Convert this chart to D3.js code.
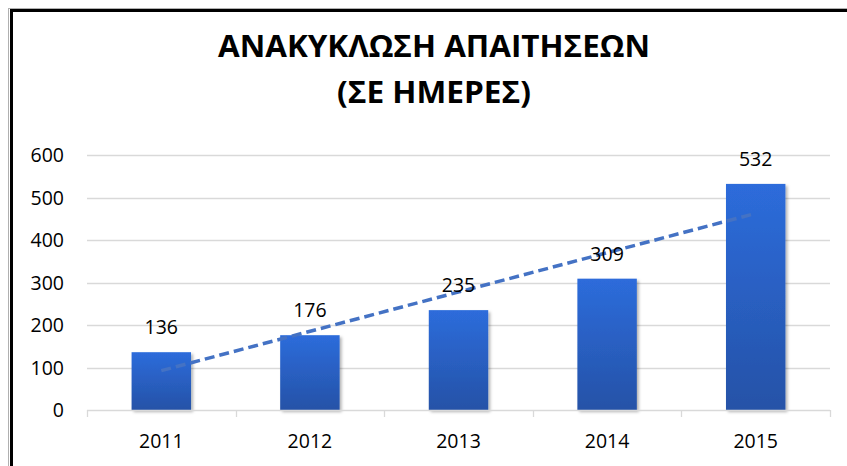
<!DOCTYPE html>
<html>
<head>
<meta charset="utf-8">
<script src="https://cdn.jsdelivr.net/npm/d3@7"></script>
<style>
  body { margin: 0; background: #fff; }
  text { font-family: "Open Sans", "Liberation Sans", sans-serif; }
</style>
</head>
<body>
<svg width="847" height="466"></svg>
<script>
const years = ["2011", "2012", "2013", "2014", "2015"];
const days = [136, 176, 235, 309, 532];
const yTicks = [0, 100, 200, 300, 400, 500, 600];
const titleLines = ["ΑΝΑΚΥΚΛΩΣΗ ΑΠΑΙΤΗΣΕΩΝ", "(ΣΕ ΗΜΕΡΕΣ)"];
const titleWidths = [432, 194];

const svg = d3.select("svg");
const width = +svg.attr("width");
const height = +svg.attr("height");

const plot = { left: 87, right: 830, top: 155, bottom: 410 };

const defs = svg.append("defs");
const grad = defs.append("linearGradient")
  .attr("id", "barGrad").attr("x1", 0).attr("y1", 0).attr("x2", 0).attr("y2", 1);
grad.append("stop").attr("offset", "0%").attr("stop-color", "#2d6cdb");
grad.append("stop").attr("offset", "100%").attr("stop-color", "#2552a7");

const shadow = defs.append("filter").attr("id", "shadow")
  .attr("x", "-20%").attr("y", "-20%").attr("width", "150%").attr("height", "150%");
shadow.append("feDropShadow")
  .attr("dx", 2).attr("dy", 2).attr("stdDeviation", 1.8)
  .attr("flood-color", "#000").attr("flood-opacity", 0.3);

// outer frame (runs past the right/bottom edges like the screenshot)
svg.append("rect")
  .attr("x", 8.5).attr("y", 8.5).attr("width", 860).attr("height", 480)
  .attr("fill", "none").attr("stroke", "#b0b0b0").attr("stroke-width", 1);
svg.append("rect")
  .attr("x", 11.5).attr("y", 10.5).attr("width", 860).attr("height", 480)
  .attr("fill", "#fff").attr("stroke", "#000").attr("stroke-width", 3);

const x = d3.scaleBand().domain(years).range([plot.left, plot.right]).paddingInner(0.6).paddingOuter(0.3);
const xBand = d3.scaleBand().domain(years).range([plot.left, plot.right]);
const y = d3.scaleLinear().domain([0, 600]).range([plot.bottom, plot.top]);

// title
svg.append("g").selectAll("text")
  .data(titleLines)
  .join("text")
  .attr("x", 434)
  .attr("y", (d, i) => 57 + i * 46)
  .attr("text-anchor", "middle")
  .attr("font-size", 30.5)
  .attr("font-weight", "bold")
  .attr("fill", "#000")
  .attr("textLength", (d, i) => titleWidths[i])
  .attr("lengthAdjust", "spacingAndGlyphs")
  .text(d => d);

// gridlines
svg.append("g").selectAll("line")
  .data(yTicks.filter(d => d > 0))
  .join("line")
  .attr("x1", plot.left).attr("x2", plot.right)
  .attr("y1", d => Math.round(y(d)) + 0.5).attr("y2", d => Math.round(y(d)) + 0.5)
  .attr("stroke", "#d9d9d9").attr("stroke-width", 1.3);

// y labels
svg.append("g").selectAll("text")
  .data(yTicks)
  .join("text")
  .attr("x", 64)
  .attr("y", d => y(d) + 7)
  .attr("text-anchor", "end")
  .attr("font-size", 19.5)
  .attr("fill", "#000")
  .text(d => d);

// bars
svg.append("g").selectAll("rect")
  .data(years)
  .join("rect")
  .attr("x", d => x(d))
  .attr("y", (d, i) => y(days[i]))
  .attr("width", x.bandwidth())
  .attr("height", (d, i) => plot.bottom - y(days[i]))
  .attr("fill", "url(#barGrad)")
  .attr("filter", "url(#shadow)");

// x axis line + ticks
const xAxis = svg.append("g");
xAxis.append("line")
  .attr("x1", plot.left).attr("x2", plot.right)
  .attr("y1", plot.bottom + 0.5).attr("y2", plot.bottom + 0.5)
  .attr("stroke", "#d9d9d9").attr("stroke-width", 1.3);
xAxis.selectAll("line.tick")
  .data(years.map(d => xBand(d)).concat([plot.right]))
  .join("line")
  .attr("class", "tick")
  .attr("x1", d => Math.round(d) + 0.5).attr("x2", d => Math.round(d) + 0.5)
  .attr("y1", plot.bottom).attr("y2", plot.bottom + 7)
  .attr("stroke", "#d9d9d9").attr("stroke-width", 1.3);
xAxis.selectAll("text")
  .data(years)
  .join("text")
  .attr("x", d => xBand(d) + xBand.bandwidth() / 2)
  .attr("y", 448)
  .attr("text-anchor", "middle")
  .attr("font-size", 19.5)
  .attr("fill", "#000")
  .text(d => d);

// linear trendline (least squares over the bar values)
const n = days.length;
const idx = d3.range(1, n + 1);
const mx = d3.mean(idx), my = d3.mean(days);
const slope = d3.sum(idx, (k, i) => (k - mx) * (days[i] - my)) / d3.sum(idx, k => (k - mx) ** 2);
const icpt = my - slope * mx;
const trend = years.map((yr, i) => [xBand(yr) + xBand.bandwidth() / 2, y(icpt + slope * (i + 1))]);
svg.append("path")
  .attr("d", d3.line()([trend[0], trend[n - 1]]))
  .attr("fill", "none")
  .attr("stroke", "#4472c4")
  .attr("stroke-width", 3.5)
  .attr("stroke-dasharray", "10,5");

// value labels
svg.append("g").selectAll("text")
  .data(years)
  .join("text")
  .attr("x", d => x(d) + x.bandwidth() / 2)
  .attr("y", (d, i) => y(days[i]) - 18)
  .attr("text-anchor", "middle")
  .attr("font-size", 19.5)
  .attr("fill", "#000")
  .text((d, i) => days[i]);
</script>
</body>
</html>
